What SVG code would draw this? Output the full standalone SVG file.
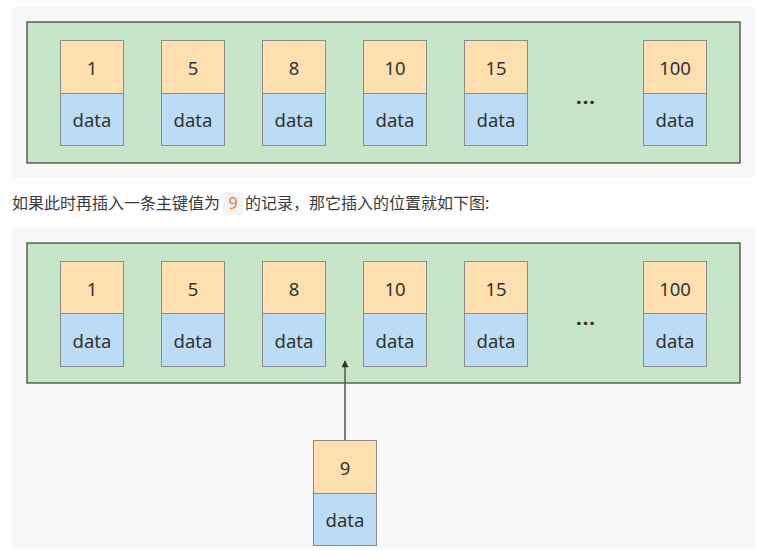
<svg xmlns="http://www.w3.org/2000/svg" width="757" height="551" viewBox="0 0 757 551">
<style>
.bg{fill:#f8f8f8}
.panel{fill:#c7e5c9;stroke:#3a3a3a;stroke-width:1.2}
.k{fill:#fddfb0;stroke:#8c8c8c;stroke-width:1}
.d{fill:#bcdcf6;stroke:#8c8c8c;stroke-width:1}
.t{font-family:"Noto Sans","Noto Sans CJK SC",sans-serif;font-size:18.5px;fill:#333;text-anchor:middle;dominant-baseline:central}
.dots{font-family:"Noto Sans",sans-serif;font-size:20px;font-weight:bold;fill:#333;text-anchor:middle;letter-spacing:1px}
.cap{font-family:"Noto Sans CJK SC","Noto Sans",sans-serif;font-size:16px;fill:#3a3a3a}
.conn{stroke:#555;stroke-width:1.5;fill:none}
</style>
<defs>
<marker id="ah" viewBox="0 0 10 10" refX="9" refY="5" markerWidth="11" markerHeight="7" orient="auto" markerUnits="userSpaceOnUse">
<path d="M0,0 L10,5 L0,10 z" fill="#333"/>
</marker>
</defs>
<rect class="bg" x="12" y="7" width="743" height="171"/>
<rect class="bg" x="12" y="228" width="743" height="320"/>

<g id="page1">
<rect class="panel" x="27" y="22" width="713" height="141"/>
<g id="n1a"><rect class="k" x="60.5" y="40.5" width="63" height="53"/><rect class="d" x="60.5" y="93.5" width="63" height="52"/><text class="t" x="92" y="67">1</text><text class="t" x="92" y="119">data</text></g>
<g id="n5a"><rect class="k" x="161.5" y="40.5" width="63" height="53"/><rect class="d" x="161.5" y="93.5" width="63" height="52"/><text class="t" x="193" y="67">5</text><text class="t" x="193" y="119">data</text></g>
<g id="n8a"><rect class="k" x="262.5" y="40.5" width="63" height="53"/><rect class="d" x="262.5" y="93.5" width="63" height="52"/><text class="t" x="294" y="67">8</text><text class="t" x="294" y="119">data</text></g>
<g id="n10a"><rect class="k" x="363.5" y="40.5" width="63" height="53"/><rect class="d" x="363.5" y="93.5" width="63" height="52"/><text class="t" x="395" y="67">10</text><text class="t" x="395" y="119">data</text></g>
<g id="n15a"><rect class="k" x="464.5" y="40.5" width="63" height="53"/><rect class="d" x="464.5" y="93.5" width="63" height="52"/><text class="t" x="496" y="67">15</text><text class="t" x="496" y="119">data</text></g>
<text class="dots" x="586" y="104">...</text>
<g id="n100a"><rect class="k" x="643.5" y="40.5" width="63" height="53"/><rect class="d" x="643.5" y="93.5" width="63" height="52"/><text class="t" x="675" y="67">100</text><text class="t" x="675" y="119">data</text></g>
</g>

<g id="caption">
<text class="cap" x="12" y="209">如果此时再插入一条主键值为</text>
<rect x="223" y="192" width="20" height="23" rx="3" fill="#f3f3f3"/>
<text x="233" y="209" font-family="Noto Sans,sans-serif" font-size="16px" fill="#ef7a1f" text-anchor="middle">9</text>
<text class="cap" x="245" y="209">的记录，那它插入的位置就如下图:</text>
</g>

<g id="page2">
<rect class="panel" x="27" y="243" width="713" height="140"/>
<g id="n1b"><rect class="k" x="60.5" y="261.5" width="63" height="52"/><rect class="d" x="60.5" y="313.5" width="63" height="53"/><text class="t" x="92" y="288">1</text><text class="t" x="92" y="340">data</text></g>
<g id="n5b"><rect class="k" x="161.5" y="261.5" width="63" height="52"/><rect class="d" x="161.5" y="313.5" width="63" height="53"/><text class="t" x="193" y="288">5</text><text class="t" x="193" y="340">data</text></g>
<g id="n8b"><rect class="k" x="262.5" y="261.5" width="63" height="52"/><rect class="d" x="262.5" y="313.5" width="63" height="53"/><text class="t" x="294" y="288">8</text><text class="t" x="294" y="340">data</text></g>
<g id="n10b"><rect class="k" x="363.5" y="261.5" width="63" height="52"/><rect class="d" x="363.5" y="313.5" width="63" height="53"/><text class="t" x="395" y="288">10</text><text class="t" x="395" y="340">data</text></g>
<g id="n15b"><rect class="k" x="464.5" y="261.5" width="63" height="52"/><rect class="d" x="464.5" y="313.5" width="63" height="53"/><text class="t" x="496" y="288">15</text><text class="t" x="496" y="340">data</text></g>
<text class="dots" x="586" y="325">...</text>
<g id="n100b"><rect class="k" x="643.5" y="261.5" width="63" height="52"/><rect class="d" x="643.5" y="313.5" width="63" height="53"/><text class="t" x="675" y="288">100</text><text class="t" x="675" y="340">data</text></g>
</g>

<g id="n9"><rect class="k" x="313.5" y="440.5" width="63" height="53"/><rect class="d" x="313.5" y="493.5" width="63" height="52"/><text class="t" x="345" y="467">9</text><text class="t" x="345" y="519">data</text></g>

<g id="connectors">
<line class="conn" x1="345" y1="440" x2="345" y2="361" marker-end="url(#ah)"/>
</g>
</svg>
